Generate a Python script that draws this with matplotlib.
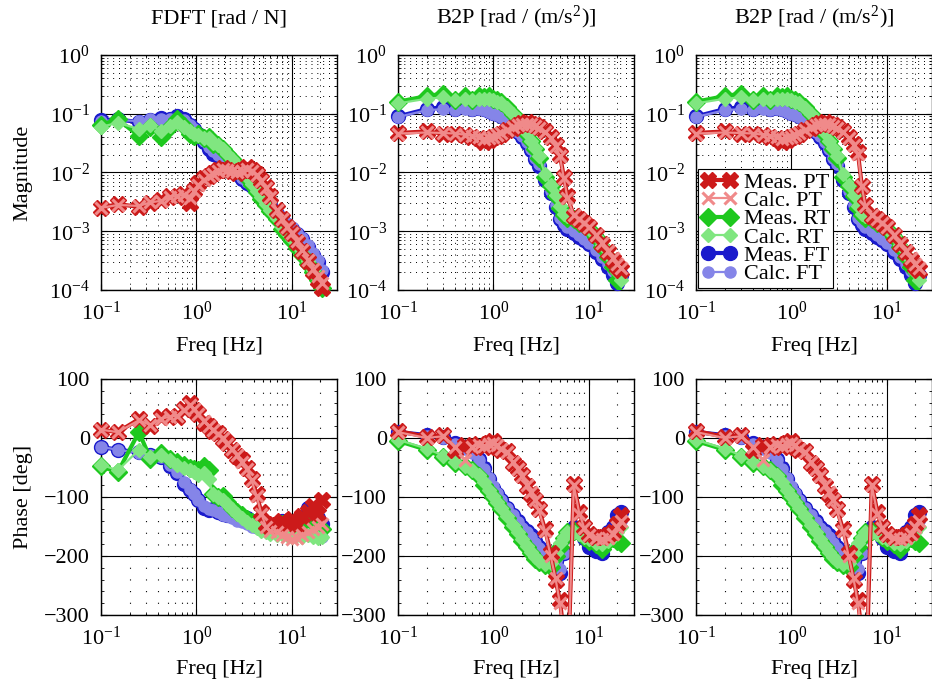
import matplotlib
matplotlib.use("Agg")
import matplotlib.pyplot as plt
from matplotlib.lines import Line2D
from matplotlib.ticker import LogLocator, MultipleLocator, FixedLocator, NullFormatter

FS = 16
plt.rcParams.update({
    "font.family": "Liberation Serif",
    "mathtext.fontset": "custom",
    "mathtext.rm": "Liberation Serif",
    "mathtext.it": "Liberation Serif:italic",
    "mathtext.default": "regular",
    "font.size": FS,
})

# ---------------- data ----------------
titles = ["FDFT [rad / N]", "B2P [rad / (m/s$^2$)]", "B2P [rad / (m/s$^2$)]"]
labels = ["Meas. PT", "Calc. PT", "Meas. RT", "Calc. RT", "Meas. FT", "Calc. FT"]

# FDFT
f_fdft = [0.1, 0.15, 0.25, 0.33, 0.43, 0.53, 0.63, 0.75, 0.85, 0.95, 1.05, 1.2, 1.35, 1.5, 1.7, 1.9,
          2.1, 2.4, 2.7, 3.0, 3.4, 3.8, 4.3, 4.8, 5.4, 6.0, 7.0, 8.0, 9.0, 10.0, 11.5, 13.0, 15.0,
          17.0, 19.0, 21.0]
mag_fdft_pt_meas = [0.0025, 0.0029, 0.0026, 0.0030, 0.0034, 0.0040, 0.0038, 0.0043, 0.0030, 0.0050,
                    0.0065, 0.0080, 0.0088, 0.0098, 0.0110, 0.0120, 0.0112, 0.0105, 0.0098, 0.0110,
                    0.0122, 0.0112, 0.0095, 0.0075, 0.0056, 0.0040, 0.0023, 0.0016, 0.0012, 0.00092,
                    0.00066, 0.00046, 0.00031, 0.00021, 0.00015, 0.00011]
mag_fdft_pt_calc = [0.0025, 0.0028, 0.0027, 0.0031, 0.0033, 0.0038, 0.0040, 0.0041, 0.0037, 0.0048,
                    0.0062, 0.0076, 0.0086, 0.0095, 0.0106, 0.0115, 0.0112, 0.0108, 0.0102, 0.0108,
                    0.0115, 0.0108, 0.0092, 0.0072, 0.0054, 0.0039, 0.0023, 0.0016, 0.0012, 0.00094,
                    0.00068, 0.00048, 0.00033, 0.00023, 0.00017, 0.00013]
mag_fdft_rt_meas = [0.065, 0.080, 0.042, 0.060, 0.040, 0.060, 0.080, 0.062, 0.046, 0.042, 0.045,
                    0.038, 0.040, 0.031, 0.029, 0.025, 0.021, 0.017, 0.013, 0.0105, 0.0080, 0.0062,
                    0.0047, 0.0036, 0.0028, 0.0022, 0.0016, 0.0011, 0.00085, 0.00068, 0.00052,
                    0.00040, 0.00028, 0.00020, 0.00015, 0.00011]
mag_fdft_rt_calc = [0.060, 0.070, 0.055, 0.065, 0.050, 0.062, 0.072, 0.060, 0.050, 0.045, 0.043,
                    0.039, 0.038, 0.032, 0.029, 0.025, 0.021, 0.017, 0.0135, 0.011, 0.0083, 0.0064,
                    0.0049, 0.0038, 0.0029, 0.0023, 0.0017, 0.0012, 0.00092, 0.00073, 0.00056,
                    0.00043, 0.00031, 0.00022, 0.00016, 0.00012]
mag_fdft_ft_meas = [0.078, 0.080, 0.072, 0.078, 0.085, 0.080, 0.090, 0.080, 0.065, 0.055, 0.045,
                    0.033, 0.025, 0.021, 0.019, 0.017, 0.015, 0.012, 0.0095, 0.0078, 0.0066, 0.0058,
                    0.0048, 0.0040, 0.0033, 0.0027, 0.0020, 0.0016, 0.0013, 0.0011, 0.00090,
                    0.00075, 0.00055, 0.00040, 0.00030, 0.00020]
mag_fdft_ft_calc = [0.075, 0.078, 0.075, 0.080, 0.082, 0.082, 0.085, 0.078, 0.065, 0.054, 0.044,
                    0.034, 0.027, 0.023, 0.020, 0.017, 0.015, 0.012, 0.0098, 0.0080, 0.0068, 0.0058,
                    0.0048, 0.0040, 0.0033, 0.0027, 0.0021, 0.0017, 0.0014, 0.0012, 0.00095,
                    0.00078, 0.00058, 0.00043, 0.00032, 0.00022]
ph_fdft_pt_meas = [14, 10, 32, 20, 35, 38, 36, 50, 60, 48, 40, 25, 20, 12, 8, -2, -8, -20, -30, -38,
                   -50, -70, -95, -125, -145, -150, -148, -140, -145, -138, -148, -132, -125, -115,
                   -128, -105]
ph_fdft_pt_calc = [14, 10, 30, 22, 33, 36, 38, 48, 56, 50, 40, 28, 20, 14, 6, 0, -10, -18, -28, -40,
                   -52, -72, -98, -128, -150, -158, -160, -165, -168, -172, -170, -165, -160, -155,
                   -150, -145]
ph_fdft_rt_meas = [-48, -58, 10, -35, -25, -35, -40, -45, -50, -52, -55, -48, -55, -95, -100, -98,
                   -108, -118, -125, -130, -138, -142, -145, -150, -152, -150, -148, -145, -150,
                   -148, -140, -150, -145, -140, -150, -155]
ph_fdft_rt_calc = [-45, -55, -20, -32, -28, -38, -45, -50, -55, -58, -62, -60, -70, -95, -100, -105,
                   -112, -120, -128, -135, -142, -148, -152, -158, -160, -162, -165, -163, -165,
                   -168, -165, -168, -165, -168, -170, -168]
ph_fdft_ft_meas = [-15, -20, -24, -28, -32, -48, -60, -78, -88, -95, -105, -118, -122, -120, -125,
                   -128, -130, -132, -133, -134, -136, -140, -142, -145, -150, -152, -148, -140,
                   -145, -150, -142, -140, -118, -125, -135, -145]
ph_fdft_ft_calc = [-15, -20, -25, -28, -33, -45, -58, -75, -86, -95, -105, -115, -120, -122, -126,
                   -130, -133, -136, -140, -143, -146, -150, -152, -155, -157, -160, -160, -158,
                   -160, -165, -160, -160, -158, -162, -165, -168]

# B2P (both B2P columns share the frequency list)
f_b2p = [0.1, 0.2, 0.3, 0.4, 0.5, 0.6, 0.7, 0.8, 0.9, 1.0, 1.1, 1.2, 1.4, 1.6, 1.8, 2.0, 2.25, 2.5,
         2.75, 3.0, 3.5, 4.0, 4.5, 5.0, 5.5, 6.0, 7.0, 8.0, 9.0, 10.0, 12.0, 14.0, 16.0, 18.0,
         20.0, 22.0]
mag_b2p_pt_meas = [0.047, 0.050, 0.046, 0.045, 0.043, 0.040, 0.038, 0.033, 0.036, 0.040, 0.042,
                   0.045, 0.052, 0.058, 0.065, 0.070, 0.072, 0.068, 0.065, 0.060, 0.050, 0.040,
                   0.029, 0.020, 0.0085, 0.0040, 0.0018, 0.0016, 0.0014, 0.0012, 0.00085, 0.00060,
                   0.00045, 0.00033, 0.00026, 0.00022]
mag_b2p_pt_calc = [0.046, 0.048, 0.047, 0.046, 0.044, 0.042, 0.040, 0.037, 0.038, 0.040, 0.043,
                   0.047, 0.053, 0.059, 0.064, 0.067, 0.068, 0.066, 0.063, 0.058, 0.049, 0.039,
                   0.028, 0.019, 0.0080, 0.0037, 0.0019, 0.0016, 0.0014, 0.0012, 0.00088, 0.00063,
                   0.00047, 0.00035, 0.00028, 0.00024]
mag_b2p_rt_meas = [0.16, 0.20, 0.22, 0.17, 0.20, 0.17, 0.20, 0.19, 0.20, 0.18, 0.17, 0.16, 0.13,
                   0.10, 0.078, 0.060, 0.045, 0.034, 0.025, 0.018, 0.0085, 0.0060, 0.0040, 0.0025,
                   0.0019, 0.0017, 0.0016, 0.0014, 0.0013, 0.0011, 0.00080, 0.00055, 0.00036,
                   0.00025, 0.00015, 0.00009]
mag_b2p_rt_calc = [0.15, 0.18, 0.19, 0.17, 0.18, 0.17, 0.18, 0.18, 0.18, 0.17, 0.16, 0.15, 0.125,
                   0.10, 0.080, 0.062, 0.047, 0.035, 0.026, 0.019, 0.0095, 0.0062, 0.0042, 0.0027,
                   0.0020, 0.0018, 0.0016, 0.0014, 0.0013, 0.0011, 0.00082, 0.00058, 0.00040,
                   0.00029, 0.00020, 0.00015]
mag_b2p_ft_meas = [0.090, 0.120, 0.130, 0.120, 0.130, 0.120, 0.125, 0.120, 0.110, 0.105, 0.100,
                   0.090, 0.075, 0.060, 0.048, 0.040, 0.032, 0.024, 0.017, 0.013, 0.0075, 0.0045,
                   0.0026, 0.0016, 0.0013, 0.0011, 0.00095, 0.00080, 0.00070, 0.00060, 0.00045,
                   0.00034, 0.00025, 0.00018, 0.00013, 0.00018]
mag_b2p_ft_calc = [0.088, 0.115, 0.120, 0.118, 0.120, 0.118, 0.120, 0.115, 0.108, 0.100, 0.095,
                   0.088, 0.073, 0.060, 0.049, 0.041, 0.033, 0.025, 0.018, 0.014, 0.0080, 0.0048,
                   0.0028, 0.0017, 0.0014, 0.0012, 0.0010, 0.00085, 0.00074, 0.00064, 0.00048,
                   0.00037, 0.00028, 0.00021, 0.00016, 0.00017]
ph_b2p_pt_meas = [12, 2, 5, -20, -12, -15, -10, -15, -8, -5, -15, -20, -22, -42, -50, -62, -82, -95,
                  -105, -120, -155, -195, -240, -275, -330, -420, -78, -125, -150, -162, -168, -168,
                  -165, -160, -145, -130]
ph_b2p_pt_calc = [10, 0, 3, -15, -37, -15, -12, -13, -10, -8, -12, -18, -24, -40, -52, -64, -80,
                  -92, -105, -122, -158, -200, -238, -280, -335, -420, -80, -128, -152, -165, -170,
                  -172, -170, -162, -150, -140]
ph_b2p_rt_meas = [-5, -20, -33, -42, -48, -55, -65, -80, -90, -100, -110, -120, -135, -150, -162,
                  -175, -185, -195, -205, -210, -215, -218, -200, -185, -170, -160, -158, -160,
                  -168, -175, -180, -188, -175, -170, -175, -178]
ph_b2p_rt_calc = [-3, -18, -30, -40, -47, -55, -63, -75, -88, -98, -108, -118, -133, -148, -160,
                  -172, -183, -193, -202, -208, -213, -212, -195, -178, -168, -160, -160, -162,
                  -168, -172, -178, -180, -175, -168, -160, -150]
ph_b2p_ft_meas = [10, 5, 2, -8, -15, -20, -35, -50, -70, -85, -95, -105, -118, -130, -140, -150,
                  -158, -165, -175, -185, -195, -208, -220, -228, -195, -165, -150, -158, -170,
                  -185, -192, -195, -160, -150, -130, -125]
ph_b2p_ft_calc = [8, 4, 0, -10, -18, -25, -38, -52, -68, -82, -94, -105, -118, -130, -142, -152,
                  -160, -168, -178, -186, -196, -206, -215, -222, -195, -170, -160, -162, -168,
                  -175, -180, -182, -170, -160, -150, -140]

# second B2P column: PT differs slightly
mag_b2p2_pt_meas = [0.047, 0.050, 0.046, 0.045, 0.043, 0.040, 0.038, 0.033, 0.036, 0.040, 0.042,
                    0.045, 0.052, 0.058, 0.065, 0.070, 0.072, 0.068, 0.065, 0.060, 0.050, 0.040,
                    0.030, 0.022, 0.0060, 0.0028, 0.0018, 0.0016, 0.0014, 0.0012, 0.00085,
                    0.00060, 0.00045, 0.00033, 0.00026, 0.00022]
mag_b2p2_pt_calc = [0.046, 0.048, 0.047, 0.046, 0.044, 0.042, 0.040, 0.037, 0.038, 0.040, 0.043,
                    0.047, 0.053, 0.059, 0.064, 0.067, 0.068, 0.066, 0.063, 0.058, 0.049, 0.039,
                    0.029, 0.021, 0.0058, 0.0027, 0.0019, 0.0016, 0.0014, 0.0012, 0.00088,
                    0.00063, 0.00047, 0.00035, 0.00028, 0.00024]
ph_b2p2_pt_meas = [12, 2, 5, -20, -12, -15, -10, -15, -8, -5, -15, -20, -22, -42, -50, -62, -82,
                   -95, -105, -120, -155, -195, -240, -275, -330, -450, -78, -125, -150, -162, -168,
                   -168, -165, -160, -145, -130]
ph_b2p2_pt_calc = [10, 0, 3, -15, -37, -15, -12, -13, -10, -8, -12, -18, -24, -40, -52, -64, -80,
                   -92, -105, -122, -158, -200, -238, -280, -335, -420, -80, -128, -152, -165, -170,
                   -172, -170, -162, -150, -140]

panels = [
    dict(f=f_fdft,
         mag=[mag_fdft_pt_meas, mag_fdft_pt_calc, mag_fdft_rt_meas, mag_fdft_rt_calc,
              mag_fdft_ft_meas, mag_fdft_ft_calc],
         ph=[ph_fdft_pt_meas, ph_fdft_pt_calc, ph_fdft_rt_meas, ph_fdft_rt_calc,
             ph_fdft_ft_meas, ph_fdft_ft_calc]),
    dict(f=f_b2p,
         mag=[mag_b2p_pt_meas, mag_b2p_pt_calc, mag_b2p_rt_meas, mag_b2p_rt_calc,
              mag_b2p_ft_meas, mag_b2p_ft_calc],
         ph=[ph_b2p_pt_meas, ph_b2p_pt_calc, ph_b2p_rt_meas, ph_b2p_rt_calc,
             ph_b2p_ft_meas, ph_b2p_ft_calc]),
    dict(f=f_b2p,
         mag=[mag_b2p2_pt_meas, mag_b2p2_pt_calc, mag_b2p_rt_meas, mag_b2p_rt_calc,
              mag_b2p_ft_meas, mag_b2p_ft_calc],
         ph=[ph_b2p2_pt_meas, ph_b2p2_pt_calc, ph_b2p_rt_meas, ph_b2p_rt_calc,
             ph_b2p_ft_meas, ph_b2p_ft_calc]),
]

# ---------------- styles ----------------
RED, LRED = "#cc1a1a", "#f08a8a"
GREEN, LGREEN = "#1ec81e", "#80e680"
BLUE, LBLUE = "#1a1acc", "#8585e8"
styles = [
    dict(color=RED, lw=3.0, marker="X", ms=11, mew=1.0),
    dict(color=LRED, lw=1.6, marker="x", ms=8, mew=2.2),
    dict(color=GREEN, lw=3.0, marker="D", ms=9, mew=1.0),
    dict(color=LGREEN, lw=1.6, marker="D", ms=7, mew=1.0),
    dict(color=BLUE, lw=3.0, marker="o", ms=10, mew=1.0),
    dict(color=LBLUE, lw=1.6, marker="o", ms=8, mew=1.0),
]
draw_order = [4, 5, 2, 3, 0, 1]

FIG_W, FIG_H = 932, 685
lefts = [101, 398, 696]
AX_W = 236

fig = plt.figure(figsize=(FIG_W / 100, FIG_H / 100), dpi=100)


def style_axes(ax, log_y):
    ax.set_xscale("log")
    ax.set_xlim(0.1, 30)
    ax.xaxis.set_major_locator(FixedLocator([0.1, 1, 10]))
    ax.xaxis.set_minor_locator(LogLocator(base=10, subs=range(2, 10), numticks=20))
    ax.xaxis.set_minor_formatter(NullFormatter())
    ax.grid(which="major", color="black", lw=0.8)
    if log_y:
        ax.set_yscale("log")
        ax.set_ylim(1e-4, 1)
        ax.yaxis.set_major_locator(FixedLocator([1e-4, 1e-3, 1e-2, 1e-1, 1]))
        ax.yaxis.set_minor_locator(LogLocator(base=10, subs=range(2, 10), numticks=20))
        ax.yaxis.set_minor_formatter(NullFormatter())
        ax.grid(which="minor", color="black", lw=0.7, linestyle=(0, (1, 5)))
    else:
        ax.set_ylim(-300, 100)
        ax.yaxis.set_major_locator(MultipleLocator(100))
        ax.yaxis.set_minor_locator(MultipleLocator(20))
        ax.grid(which="minor", axis="x", color="black", lw=0.8, linestyle=(0, (1, 9.5)))
    ax.set_axisbelow(True)
    ax.tick_params(which="both", direction="in", top=True, right=True, labelsize=FS)
    ax.tick_params(which="major", length=4, pad=8)
    ax.tick_params(which="minor", length=2)
    for s in ax.spines.values():
        s.set_linewidth(1.0)
        s.set_color("black")


def draw_series(ax, f, values, st, z, lo, hi):
    ax.plot(f, values, color=st["color"], lw=st["lw"], zorder=z, solid_joinstyle="miter")
    keep = [(x, y) for x, y in zip(f, values) if lo <= y <= hi]
    xs = [k[0] for k in keep]
    ys = [k[1] for k in keep]
    ax.plot(xs, ys, ls="none", marker=st["marker"], ms=st["ms"], mew=st["mew"],
            color=st["color"], mfc=st["color"], mec=st["color"], zorder=z + 0.5,
            clip_on=False)


for col, p in enumerate(panels):
    x0 = lefts[col] / FIG_W
    ax_m = fig.add_axes([x0, 1 - 290 / FIG_H, AX_W / FIG_W, 235 / FIG_H])
    ax_p = fig.add_axes([x0, 1 - 615 / FIG_H, AX_W / FIG_W, 236 / FIG_H])
    style_axes(ax_m, True)
    style_axes(ax_p, False)
    for k, idx in enumerate(draw_order):
        draw_series(ax_m, p["f"], p["mag"][idx], styles[idx], 3 + k, 1e-4, 1)
        draw_series(ax_p, p["f"], p["ph"][idx], styles[idx], 3 + k, -300, 100)
    ax_m.set_title(titles[col], fontsize=FS, pad=23)
    ax_m.set_xlabel("Freq [Hz]", fontsize=FS, labelpad=9)
    ax_p.set_xlabel("Freq [Hz]", fontsize=FS, labelpad=8)
    if col == 0:
        ax_m.set_ylabel("Magnitude", fontsize=FS, labelpad=12)
        ax_p.set_ylabel("Phase [deg]", fontsize=FS, labelpad=8)
    if col == 2:
        handles = [Line2D([0], [0], color=st["color"], lw=st["lw"], marker=st["marker"],
                          ms=st["ms"], mew=st["mew"], mfc=st["color"], mec=st["color"])
                   for st in styles]
        leg = ax_m.legend(handles, labels, loc="lower left", bbox_to_anchor=(0.0, 0.0),
                          borderaxespad=0.1, fontsize=FS, numpoints=2, handlelength=1.6,
                          handletextpad=0.3, labelspacing=-0.1, borderpad=0.15,
                          fancybox=False, framealpha=1, edgecolor="black")
        leg.get_frame().set_linewidth(0.8)
        leg.set_zorder(20)

fig.savefig("out.png", dpi=100)
